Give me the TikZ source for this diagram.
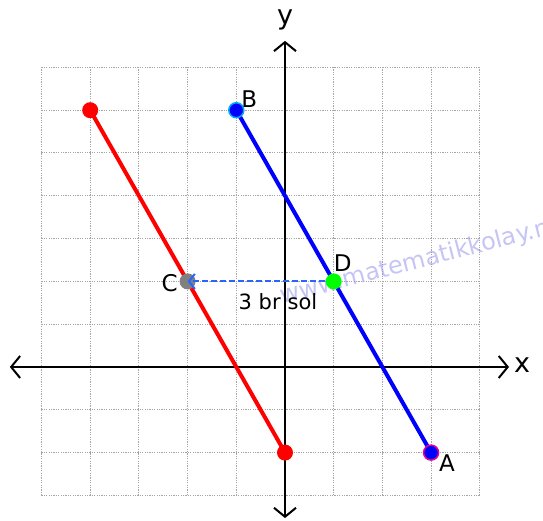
\documentclass[tikz,border=0pt]{standalone}
\usepackage{fontspec}
\setmainfont{DejaVu Sans}
\usetikzlibrary{arrows.meta}
\definecolor{dashblue}{RGB}{40,100,255}
\definecolor{wmark}{RGB}{140,140,235}
\definecolor{gridgray}{RGB}{165,165,165}
\begin{document}
\begin{tikzpicture}[x=48.7pt,y=42.8pt,
  gridline/.style={draw=gridgray,line width=1pt,dash pattern=on 1.2pt off 1.2pt},
  axis/.style={line width=2pt,-{Straight Barb[length=9pt,width=22pt,line width=2pt]}},
  seg/.style={line width=4pt},
  dot/.style={circle,inner sep=0pt,minimum size=16pt},
  lbl/.style={font=\fontsize{23pt}{26pt}\selectfont,inner sep=0pt},
  axlbl/.style={font=\fontsize{27pt}{30pt}\selectfont,inner sep=0pt},
  dasharrow/.style={draw=dashblue,line width=2pt,dash pattern=on 6pt off 3pt,
    -{Straight Barb[length=6pt,width=15pt,line width=2pt]}}
]
\useasboundingbox (-285pt,-154pt) rectangle (258pt,367pt);
\begin{scope}
\clip (-285pt,-154pt) rectangle (258pt,367pt);
% grid
\draw[gridline] (-5,-3) grid[step={(1,1)}] (4,7);
% watermark
\node[anchor=base west,rotate=14.5,text=wmark,opacity=0.5,inner sep=0pt,
  font=\fontsize{24pt}{28pt}\selectfont] (wm) at (-3pt,63pt) {www.matematikkolay.net};
\end{scope}
% axes
\coordinate (xl) at (-5.65,0);
\coordinate (xr) at (4.6,0);
\coordinate (yb) at (0,-3.53);
\coordinate (yt) at (0,7.62);
\draw[axis] (0,0) -- (xr);
\draw[axis] (0,0) -- (xl);
\draw[axis] (0,0) -- (yt);
\draw[axis] (0,0) -- (yb);
\node[axlbl] (xlab) at (4.87,0.04) {x};
\node[axlbl] (ylab) at (0,8.12) {y};
% points
\coordinate (R1) at (-4,6);
\coordinate (R2) at (0,-2);
\coordinate (Bc) at (-1,6);
\coordinate (Ac) at (3,-2);
\coordinate (Cc) at (-2,2);
\coordinate (Dc) at (1,2);
\draw[seg,red] (R1) -- (R2);
\draw[seg,blue] (Bc) -- (Ac);
\node[dot,fill=red] (r1) at (R1) {};
\node[dot,fill=red] (r2) at (R2) {};
\node[dot,fill=blue,draw=cyan,line width=1.5pt,minimum size=15pt] (B) at (Bc) {};
\node[dot,fill=blue,draw=magenta,line width=1.5pt,minimum size=15pt] (A) at (Ac) {};
\node[dot,fill=gray] (C) at (Cc) {};
\draw[dasharrow] (Dc) -- (Cc);
\node[dot,fill=green] (D) at (Dc) {};
% labels
\node[lbl] (lB) at ([shift={(13pt,11pt)}]Bc) {B};
\node[lbl] (lA) at ([shift={(16pt,-11pt)}]Ac) {A};
\node[lbl] (lC) at ([shift={(-18pt,-2pt)}]Cc) {C};
\node[lbl] (lD) at ([shift={(9pt,18pt)}]Dc) {D};
\node[lbl,font=\fontsize{21pt}{24pt}\selectfont] (txt) at (-7pt,65pt) {3 br\,\,sol};
\end{tikzpicture}
\end{document}
